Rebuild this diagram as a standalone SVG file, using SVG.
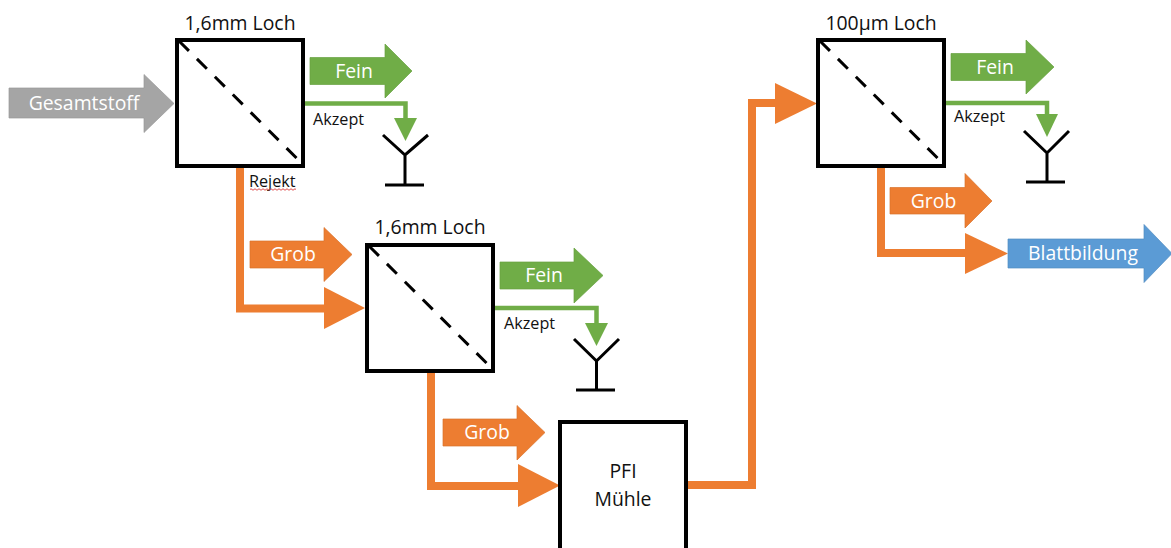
<svg xmlns="http://www.w3.org/2000/svg" width="1171" height="548" viewBox="0 0 1171 548">
<style>
text{font-family:"Open Sans","Noto Sans","Liberation Sans",sans-serif}
.box{fill:#fff;stroke:#000;stroke-width:4}
.dash{fill:none;stroke:#000;stroke-width:3;stroke-dasharray:14 11.300}
.ant{fill:none;stroke:#000;stroke-width:3}
.or{fill:none;stroke:#ED7D31;stroke-width:8}
.gr{fill:none;stroke:#70AD47;stroke-width:4.5}
.fo{fill:#ED7D31}.fg{fill:#70AD47}
.ao{fill:#ED7D31;stroke:#D9722C;stroke-width:.7}
.ag{fill:#70AD47;stroke:#67A041;stroke-width:.7}
.ab{fill:#5B9BD5;stroke:#528DC2;stroke-width:.7}
.ay{fill:#A5A5A5;stroke:#999;stroke-width:.7}
.t{font-size:19.4px;fill:#111;text-anchor:middle}
.w{font-size:19.4px;fill:#fff;text-anchor:middle}
.s{font-size:16.2px;fill:#111}
.sq{fill:none;stroke:#E05050;stroke-width:1}
</style>
<g id="connectors">
<path class="or" d="M240 168V308.500H330"/><polygon class="fo" points="324,287 365,308 324,329"/>
<path class="or" d="M431 373V486H524"/><polygon class="fo" points="518,464 560,485.500 518,507"/>
<path class="or" d="M688 485H752V103H780"/><polygon class="fo" points="775,83 817,103.500 775,124"/>
<path class="or" d="M881 168V253H970"/><polygon class="fo" points="965,233 1008,253.500 965,274"/>
<path class="gr" d="M305 103.500H405.500V120"/><polygon class="fg" points="394,118 417,118 405.500,141"/>
<path class="gr" d="M495 308H596.500V325"/><polygon class="fg" points="585,323 608,323 596.500,346"/>
<path class="gr" d="M946 103H1047V116"/><polygon class="fg" points="1036,114 1058,114 1047,137"/>
</g>
<g id="input"><polygon class="ay" points="9,88 144,88 144,74.500 174,103.500 144,132.500 144,118 9,118"/><text class="w" x="84" y="110">Gesamtstoff</text></g>
<g id="sieve1"><rect class="box" x="177" y="40" width="126" height="126"/><path class="dash" d="M179 41L299 160.500"/><text class="t" x="240" y="29.500">1,6mm Loch</text></g>
<g id="fein1"><polygon class="ag" points="310,57.500 385,57.500 385,44 412,71 385,98 385,84.500 310,84.500"/><text class="w" x="354" y="77.500">Fein</text></g>
<g id="akzept1"><text class="s" x="313" y="125">Akzept</text></g>
<g id="rejekt1"><text class="s" x="249" y="186.500">Rejekt</text><path class="sq" d="M250 189.500q1-1.500 2 0t2 0t2 0t2 0t2 0t2 0t2 0t2 0t2 0t2 0t2 0t2 0t2 0t2 0t2 0t2 0t2 0t2 0t2 0t2 0t2 0t2 0t2 0"/></g>
<g id="sink1"><path class="ant" d="M383 135L405 155L428 135M405 155V185M385 185H424"/></g>
<g id="grob1"><polygon class="ao" points="250,241 324,241 324,227.500 352,254.500 324,281.500 324,268 250,268"/><text class="w" x="293" y="261">Grob</text></g>
<g id="sieve2"><rect class="box" x="367" y="245" width="126" height="126"/><path class="dash" d="M369 246L489 365.500"/><text class="t" x="430" y="233.500">1,6mm Loch</text></g>
<g id="fein2"><polygon class="ag" points="500,262 574,262 574,248 603,275.500 574,303 574,289 500,289"/><text class="w" x="544" y="281.500">Fein</text></g>
<g id="akzept2"><text class="s" x="504" y="329">Akzept</text></g>
<g id="sink2"><path class="ant" d="M574 339L596.500 361L619 339M596.500 361V390M576 390H615"/></g>
<g id="grob2"><polygon class="ao" points="443,419 517,419 517,405.500 545,432.500 517,460 517,446 443,446"/><text class="w" x="487" y="439">Grob</text></g>
<g id="pfi"><rect class="box" x="560" y="422" width="126" height="132"/><text class="t" x="623" y="478">PFI</text><text class="t" x="623" y="505.500">Mühle</text></g>
<g id="sieve3"><rect class="box" x="818" y="40" width="126" height="126"/><path class="dash" d="M820 41L940 160.500"/><text class="t" x="881" y="29.500">100µm Loch</text></g>
<g id="fein3"><polygon class="ag" points="951,53.500 1026,53.500 1026,40 1054,67 1026,94 1026,80.500 951,80.500"/><text class="w" x="995" y="73.500">Fein</text></g>
<g id="akzept3"><text class="s" x="954" y="121.500">Akzept</text></g>
<g id="sink3"><path class="ant" d="M1024 131L1047 153L1069 131M1047 153V182M1026 182H1065"/></g>
<g id="grob3"><polygon class="ao" points="890,187.500 965,187.500 965,173.500 992,201 965,228 965,214 890,214"/><text class="w" x="933.500" y="207.500">Grob</text></g>
<g id="blatt"><polygon class="ab" points="1008,239 1144,239 1144,224.500 1172,253.500 1144,282.500 1144,268 1008,268"/><text class="w" x="1083" y="260">Blattbildung</text></g>
</svg>
